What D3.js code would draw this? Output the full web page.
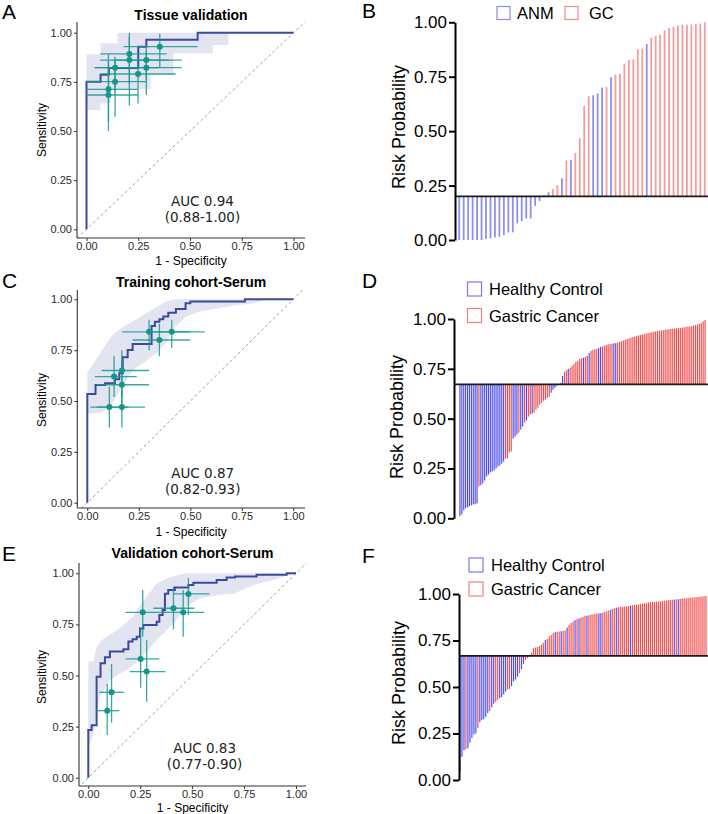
<!DOCTYPE html>
<html><head><meta charset="utf-8">
<script src="https://cdn.jsdelivr.net/npm/d3@7"></script>
<style>body{margin:0;background:#fff}svg{display:block}</style>
</head><body>
<svg id="c" width="708" height="814"></svg>
<script>
// ---------------- DATA ----------------
const axisTicks = [0, 0.25, 0.5, 0.75, 1];

// Panel A - Tissue validation
const rocA_fpr = [0, 0, 0.068, 0.108, 0.25, 0.289, 0.537, 1];
const rocA_tpr = [0, 0.75, 0.786, 0.821, 0.929, 0.964, 1, 1];
const ciA_x  = [0, 0.068, 0.116, 0.15, 0.31, 0.42, 0.61, 0.686];
const ciA_lo = [0.607, 0.64, 0.712, 0.712, 0.785, 0.895, 0.937, 1];
const ciA_hi = [0.89, 0.946, 0.946, 1, 1, 1, 1, 1];
const ptA_x   = [0.354, 0.207, 0.207, 0.289, 0.289, 0.138, 0.249, 0.138, 0.106, 0.106];
const ptA_y   = [0.929, 0.892, 0.861, 0.861, 0.822, 0.822, 0.79, 0.751, 0.712, 0.683];
const ptA_xlo = [0.179, 0.066, 0.066, 0.13, 0.04, 0.04, 0.068, 0.0, 0.0, 0.0];
const ptA_xhi = [0.537, 0.387, 0.40, 0.46, 0.46, 0.35, 0.43, 0.29, 0.248, 0.248];
const ptA_ylo = [0.82, 0.74, 0.63, 0.76, 0.683, 0.70, 0.64, 0.573, 0.55, 0.50];
const ptA_yhi = [0.995, 1.0, 0.98, 0.93, 0.903, 0.878, 0.844, 0.86, 0.89, 0.85];

// Panel C - Training cohort-Serum
const rocC_fpr = [0, 0, 0.04, 0.086, 0.134, 0.155, 0.172, 0.196, 0.22, 0.312, 0.328, 0.35, 0.369, 0.393, 0.43, 0.477, 0.5, 0.765, 1];
const rocC_tpr = [0, 0.534, 0.579, 0.587, 0.607, 0.636, 0.715, 0.751, 0.78, 0.869, 0.89, 0.902, 0.915, 0.934, 0.952, 0.98, 0.989, 1, 1];
const ciC_x  = [0, 0.06, 0.11, 0.14, 0.175, 0.22, 0.29, 0.34, 0.385, 0.42, 0.48, 0.547, 0.63, 0.71, 0.81, 0.87];
const ciC_lo = [0.44, 0.44, 0.47, 0.52, 0.58, 0.65, 0.70, 0.74, 0.79, 0.857, 0.915, 0.94, 0.955, 0.97, 0.98, 1.0];
const ciC_hi = [0.64, 0.73, 0.81, 0.84, 0.866, 0.89, 0.935, 0.965, 0.99, 1, 1, 1, 1, 1, 1, 1];
const ptC_x   = [0.30, 0.35, 0.41, 0.168, 0.13, 0.168, 0.107, 0.168];
const ptC_y   = [0.84, 0.80, 0.84, 0.65, 0.62, 0.58, 0.47, 0.47];
const ptC_xlo = [0.17, 0.22, 0.29, 0.07, 0.037, 0.045, 0.015, 0.045];
const ptC_xhi = [0.50, 0.50, 0.57, 0.30, 0.24, 0.30, 0.20, 0.28];
const ptC_ylo = [0.75, 0.72, 0.76, 0.53, 0.52, 0.45, 0.37, 0.37];
const ptC_yhi = [0.90, 0.88, 0.90, 0.75, 0.72, 0.70, 0.57, 0.55];

// Panel E - Validation cohort-Serum
const rocE_fpr = [0, 0, 0.016, 0.04, 0.059, 0.08, 0.104, 0.169, 0.193, 0.213, 0.233, 0.249, 0.265, 0.329, 0.342, 0.358, 0.369, 0.385, 0.417, 0.482, 0.506, 0.618, 0.666, 0.706, 0.81, 0.955, 1];
const rocE_tpr = [0, 0.233, 0.256, 0.494, 0.56, 0.589, 0.617, 0.628, 0.666, 0.677, 0.69, 0.73, 0.747, 0.763, 0.796, 0.82, 0.90, 0.918, 0.93, 0.943, 0.954, 0.967, 0.979, 0.984, 0.993, 1, 1];
const ciE_x  = [0, 0.024, 0.032, 0.04, 0.056, 0.072, 0.104, 0.136, 0.185, 0.217, 0.25, 0.29, 0.33, 0.377, 0.41, 0.47, 0.54, 0.62, 0.70, 0.795, 0.89, 0.955, 1.0];
const ciE_lo = [0.152, 0.21, 0.25, 0.32, 0.396, 0.42, 0.478, 0.50, 0.527, 0.55, 0.584, 0.625, 0.675, 0.72, 0.755, 0.835, 0.878, 0.894, 0.90, 0.943, 0.967, 0.987, 1.0];
const ciE_hi = [0.568, 0.568, 0.60, 0.64, 0.66, 0.68, 0.70, 0.72, 0.76, 0.79, 0.845, 0.90, 0.95, 0.975, 0.985, 1, 1, 1, 1, 1, 1, 1, 1];
const ptE_x   = [0.482, 0.41, 0.457, 0.262, 0.252, 0.281, 0.112, 0.091];
const ptE_y   = [0.899, 0.829, 0.809, 0.809, 0.581, 0.519, 0.418, 0.328];
const ptE_xlo = [0.41, 0.313, 0.361, 0.18, 0.18, 0.2, 0.053, 0.04];
const ptE_xhi = [0.583, 0.51, 0.559, 0.374, 0.342, 0.371, 0.172, 0.149];
const ptE_ylo = [0.796, 0.726, 0.69, 0.69, 0.44, 0.372, 0.27, 0.209];
const ptE_yhi = [0.976, 0.935, 0.918, 0.918, 0.723, 0.674, 0.556, 0.458];

// Panel B - tissue risk probability (group: 0 = ANM, 1 = GC)
const riskB = [0,0,0,0,0,0,0.005,0.008,0.012,0.015,0.023,0.035,0.035,0.076,0.087,0.099,0.099,0.157,0.179,
  0.205,0.219,0.234,0.252,0.283,0.365,0.368,0.40,0.468,0.616,0.66,0.665,0.673,0.70,0.703,0.748,0.76,0.763,0.81,0.827,
  0.83,0.876,0.879,0.90,0.93,0.937,0.943,0.963,0.974,0.979,0.986,0.989,0.989,0.99,0.992,0.994,1.0];
const groupB = [0,0,0,0,0,0,0,0,0,0,0,0,0,0,0,0,0,0,0,
  0,0,1,1,0,1,0,1,1,1,1,0,0,0,1,0,1,1,1,1,
  1,1,1,0,1,1,1,1,1,1,1,1,1,1,1,1,1];

// Panel D - training serum risk probability (0 = Healthy Control, 1 = Gastric Cancer)
const riskD = [0.01,0.02,0.04,0.05,0.055,0.06,0.065,0.07,0.07,0.075,0.16,0.165,0.175,0.19,0.21,0.22,0.23,0.235,0.24,0.25,
  0.26,0.265,0.275,0.285,0.30,0.30,0.33,0.335,0.40,0.41,0.42,0.43,0.445,0.46,0.48,0.49,0.51,0.52,0.525,0.53,
  0.545,0.555,0.57,0.58,0.59,0.595,0.605,0.61,0.63,0.645,0.655,0.665,
  0.675,0.68,0.714,0.735,0.742,0.75,0.755,0.765,0.775,0.785,0.79,0.80,0.803,0.806,0.81,0.815,0.83,0.84,0.845,0.848,
  0.85,0.855,0.86,0.862,0.866,0.87,0.873,0.875,0.876,0.878,0.879,0.882,0.885,0.888,0.892,0.896,0.90,0.903,0.906,0.909,
  0.912,0.915,0.918,0.92,0.923,0.926,0.928,0.93,0.932,0.934,0.936,0.938,0.94,0.941,0.943,0.944,0.946,0.947,0.949,0.95,
  0.951,0.952,0.953,0.954,0.955,0.957,0.958,0.96,0.962,0.963,0.965,0.967,0.969,0.972,0.976,0.98,0.988,0.995];
const groupD = [0,0,0,0,0,0,0,0,0,0,1,0,0,0,0,0,0,0,0,0,
  0,0,0,0,1,1,1,1,0,0,0,1,0,0,1,0,1,1,0,1,
  1,1,1,1,1,1,1,1,0,0,0,0,
  1,1,0,1,1,0,1,1,1,1,1,1,1,0,1,1,0,1,1,1,
  1,0,0,1,1,1,1,1,1,0,0,1,1,1,1,1,1,1,1,1,
  1,1,1,1,1,1,1,1,1,1,1,1,1,1,1,1,1,1,1,1,
  1,1,1,1,1,1,1,1,1,1,1,1,1,1,1,1,1,1];

// Panel F - validation serum risk probability (0 = Healthy Control, 1 = Gastric Cancer)
const riskF = [0.045,0.125,0.16,0.165,0.17,0.2,0.225,0.245,0.25,0.28,0.31,0.322,0.327,0.34,0.36,0.37,0.39,0.41,0.42,0.43,
  0.44,0.445,0.46,0.475,0.487,0.49,0.505,0.53,0.54,0.555,0.575,0.595,0.625,0.645,0.655,0.662,
  0.685,0.708,0.712,0.715,0.72,0.728,0.738,0.752,0.758,0.772,0.78,0.79,0.797,0.797,0.798,0.80,0.802,0.805,0.82,0.835,
  0.845,0.852,0.86,0.865,0.869,0.873,0.877,0.881,0.884,0.886,0.889,0.891,0.893,0.895,0.896,0.897,0.90,0.904,0.908,0.912,
  0.916,0.92,0.924,0.927,0.929,0.931,0.932,0.933,0.934,0.936,0.937,0.939,0.941,0.942,0.944,0.946,0.948,0.95,0.952,0.954,
  0.956,0.957,0.958,0.959,0.96,0.961,0.963,0.964,0.965,0.967,0.968,0.969,0.97,0.971,0.972,0.974,0.976,0.977,0.978,0.979,
  0.98,0.981,0.982,0.983,0.984,0.985,0.987,0.988,0.989];
const groupF = [0,0,0,1,0,0,0,0,0,1,0,0,0,0,0,1,0,0,1,1,
  0,0,0,0,1,1,0,0,0,0,1,0,0,1,1,0,
  1,1,1,1,1,1,1,0,1,1,1,1,0,1,1,0,1,1,0,1,
  1,1,0,1,0,1,1,1,0,1,1,1,1,1,0,0,1,1,1,1,
  0,1,1,0,1,1,1,1,1,1,0,1,1,1,1,1,1,1,1,1,
  1,1,1,1,1,1,1,1,1,1,1,1,0,1,0,1,1,1,1,1,
  1,1,1,1,1,1,1,1,1];

// ---------------- DRAWING ----------------
const FONT = "'Liberation Sans', Arial, Helvetica, sans-serif";
const AUCFONT = "'DejaVu Sans', Verdana, sans-serif";
const svg = d3.select("#c");
const defs = svg.append("defs");
const fmt = d3.format(".2f");

function letter(t, x, y) {
  svg.append("text").attr("x", x).attr("y", y).text(t)
    .attr("font-family", FONT).attr("font-size", 21).attr("fill", "#000");
}

function rocPanel(o, d) {
  const x = d3.scaleLinear().domain([0, 1]).range([o.x0, o.x1]);
  const y = d3.scaleLinear().domain([0, 1]).range([o.y0, o.y1]);
  const g = svg.append("g");
  const cid = "clip-" + o.id;
  defs.append("clipPath").attr("id", cid).append("rect")
    .attr("x", o.axL).attr("y", o.axT).attr("width", o.axR - o.axL).attr("height", o.axB - o.axT);
  const pg = g.append("g").attr("clip-path", `url(#${cid})`);
  pg.append("path").datum(d3.range(d.ciX.length))
    .attr("d", d3.area().curve(o.stepBand ? d3.curveStepAfter : d3.curveLinear)
      .x(i => x(d.ciX[i])).y0(i => y(d.ciLo[i])).y1(i => y(d.ciHi[i])))
    .attr("fill", "#e3e4f1");
  pg.append("line").attr("x1", x(-0.2)).attr("y1", y(-0.2)).attr("x2", x(1.2)).attr("y2", y(1.2))
    .attr("stroke", "#a0a0a0").attr("stroke-width", 1).attr("stroke-dasharray", "3,2.5");
  pg.append("path").datum(d3.range(d.fpr.length))
    .attr("d", d3.line().curve(d3.curveStepAfter).x(i => x(d.fpr[i])).y(i => y(d.tpr[i])))
    .attr("fill", "none").attr("stroke", "#3b4a9c").attr("stroke-width", 2);
  const eb = g.append("g").attr("stroke", "#17998d").attr("stroke-width", 1.3).attr("stroke-opacity", 0.85);
  d.px.forEach((px, i) => {
    eb.append("line").attr("x1", x(d.pxlo[i])).attr("x2", x(d.pxhi[i])).attr("y1", y(d.py[i])).attr("y2", y(d.py[i]));
    eb.append("line").attr("x1", x(px)).attr("x2", x(px)).attr("y1", y(d.pylo[i])).attr("y2", y(d.pyhi[i]));
  });
  g.append("g").selectAll("circle").data(d.px).join("circle")
    .attr("cx", v => x(v)).attr("cy", (v, i) => y(d.py[i])).attr("r", 3).attr("fill", "#13978b");

  // axes
  const ya = g.append("g").attr("transform", `translate(${o.axL},0)`)
    .call(d3.axisLeft(y).tickValues(axisTicks).tickFormat(fmt).tickSize(3).tickPadding(2));
  const xa = g.append("g").attr("transform", `translate(0,${o.axB})`)
    .call(d3.axisBottom(x).tickValues(axisTicks).tickFormat(fmt).tickSize(3).tickPadding(1));
  [ya, xa].forEach(a => {
    a.select(".domain").remove();
    a.selectAll("text").attr("font-family", FONT).attr("font-size", 11).attr("fill", "#2a2a2a");
    a.selectAll("line").attr("stroke", "#333");
  });
  g.append("line").attr("x1", o.axL).attr("x2", o.axL).attr("y1", o.axT).attr("y2", o.axB)
    .attr("stroke", "#333").attr("stroke-width", 1.1);
  g.append("line").attr("x1", o.axL).attr("x2", o.axR).attr("y1", o.axB).attr("y2", o.axB)
    .attr("stroke", "#333").attr("stroke-width", 1.1);

  g.append("text").attr("x", (o.axL + o.axR) / 2).attr("y", o.titleY).attr("text-anchor", "middle")
    .attr("font-family", FONT).attr("font-size", 14).attr("font-weight", "bold").text(o.title);
  g.append("text").attr("transform", `translate(${o.ylabX},${o.ylabY}) rotate(-90)`).attr("text-anchor", "middle")
    .attr("dominant-baseline", "central").attr("font-family", FONT).attr("font-size", 12).text("Sensitivity");
  g.append("text").attr("x", (o.axL + o.axR) / 2).attr("y", o.xlabY).attr("text-anchor", "middle")
    .attr("font-family", FONT).attr("font-size", 12).text("1 - Specificity");
  g.append("text").attr("x", x(0.56)).attr("y", y(0.145)).attr("text-anchor", "middle")
    .attr("dominant-baseline", "central").attr("font-family", AUCFONT).attr("font-size", 13.5).attr("fill", "#222").text(o.auc1);
  g.append("text").attr("x", x(0.56)).attr("y", y(0.065)).attr("text-anchor", "middle")
    .attr("dominant-baseline", "central").attr("font-family", AUCFONT).attr("font-size", 13.5).attr("fill", "#222").text(o.auc2);
}

function barPanel(o, vals, grp) {
  const y = d3.scaleLinear().domain([0, 1]).range([o.y0, o.y1]);
  const x = d3.scaleBand().domain(d3.range(vals.length)).range([o.bx0, o.bx1]);
  const g = svg.append("g");
  g.selectAll("rect").data(vals).join("rect")
    .attr("x", (v, i) => x(i) + x.bandwidth() / 2 - o.bw / 2)
    .attr("width", o.bw)
    .attr("y", v => Math.min(y(v), y(o.thr)))
    .attr("height", v => Math.abs(y(v) - y(o.thr)))
    .attr("fill", (v, i) => grp[i] ? o.red : o.blue);
  g.append("line").attr("x1", o.axX).attr("x2", 708).attr("y1", y(o.thr)).attr("y2", y(o.thr))
    .attr("stroke", "#1a1a1a").attr("stroke-width", 1.8);
  const ya = g.append("g").attr("transform", `translate(${o.axX},0)`)
    .call(d3.axisLeft(y).tickValues(axisTicks).tickFormat(fmt).tickSize(6).tickSizeOuter(0).tickPadding(2));
  ya.select(".domain").attr("stroke", "#000").attr("stroke-width", 2);
  ya.selectAll("line").attr("stroke", "#000").attr("stroke-width", 2);
  ya.selectAll("text").attr("font-family", FONT).attr("font-size", 17).attr("fill", "#000");
  g.append("text").attr("transform", `translate(${o.ylabX},${o.ylabY}) rotate(-90)`).attr("text-anchor", "middle")
    .attr("dominant-baseline", "central").attr("font-family", FONT).attr("font-size", 18).text("Risk Probability");
  o.legend.forEach(L => {
    g.append("rect").attr("x", L.x).attr("y", L.y).attr("width", L.s).attr("height", L.s)
      .attr("fill", "none").attr("stroke", L.c).attr("stroke-width", 1.2);
    g.append("text").attr("x", L.tx).attr("y", L.y + L.s / 2).attr("dominant-baseline", "central")
      .attr("font-family", FONT).attr("font-size", 16.5).text(L.t);
  });
}

// ROC panels
rocPanel({id: "A", x0: 86.5, x1: 293.5, y0: 229.3, y1: 32.7, axL: 77, axR: 305, axT: 22, axB: 238,
  stepBand: true, title: "Tissue validation", titleY: 20, ylabX: 41.5, ylabY: 130, xlabY: 265,
  auc1: "AUC 0.94", auc2: "(0.88-1.00)"},
  {fpr: rocA_fpr, tpr: rocA_tpr, ciX: ciA_x, ciLo: ciA_lo, ciHi: ciA_hi,
   px: ptA_x, py: ptA_y, pxlo: ptA_xlo, pxhi: ptA_xhi, pylo: ptA_ylo, pyhi: ptA_yhi});
rocPanel({id: "C", x0: 87.3, x1: 293.3, y0: 502.7, y1: 299.3, axL: 77.3, axR: 305, axT: 290, axB: 508,
  stepBand: false, title: "Training cohort-Serum", titleY: 287, ylabX: 41.5, ylabY: 400, xlabY: 536,
  auc1: "AUC 0.87", auc2: "(0.82-0.93)"},
  {fpr: rocC_fpr, tpr: rocC_tpr, ciX: ciC_x, ciLo: ciC_lo, ciHi: ciC_hi,
   px: ptC_x, py: ptC_y, pxlo: ptC_xlo, pxhi: ptC_xhi, pylo: ptC_ylo, pyhi: ptC_yhi});
rocPanel({id: "E", x0: 88.3, x1: 296, y0: 777.7, y1: 573.3, axL: 79, axR: 306, axT: 563, axB: 786,
  stepBand: false, title: "Validation cohort-Serum", titleY: 558, ylabX: 42, ylabY: 677, xlabY: 812,
  auc1: "AUC 0.83", auc2: "(0.77-0.90)"},
  {fpr: rocE_fpr, tpr: rocE_tpr, ciX: ciE_x, ciLo: ciE_lo, ciHi: ciE_hi,
   px: ptE_x, py: ptE_y, pxlo: ptE_xlo, pxhi: ptE_xhi, pylo: ptE_ylo, pyhi: ptE_yhi});

// Bar panels
barPanel({y0: 240, y1: 22.3, axX: 455, bx0: 457, bx1: 707, bw: 1.8, thr: 0.2,
  blue: "#8f8ff2", red: "#f59c9c", ylabX: 399, ylabY: 127,
  legend: [{x: 497, y: 6.5, s: 13, c: "#8a8af0", t: "ANM", tx: 517},
           {x: 565, y: 6.5, s: 13, c: "#f08c8c", t: "GC", tx: 589}]}, riskB, groupB);
barPanel({y0: 518.3, y1: 319, axX: 454, bx0: 459, bx1: 706, bw: 1.15, thr: 0.672,
  blue: "#4a4af2", red: "#f24c4c", ylabX: 397, ylabY: 417,
  legend: [{x: 467.5, y: 282, s: 14, c: "#7a7af0", t: "Healthy Control", tx: 489},
           {x: 467.5, y: 308.5, s: 14, c: "#f08080", t: "Gastric Cancer", tx: 489}]}, riskD, groupD);
barPanel({y0: 780, y1: 594, axX: 459, bx0: 459, bx1: 707, bw: 1.15, thr: 0.667,
  blue: "#4a4af2", red: "#f24c4c", ylabX: 399, ylabY: 683,
  legend: [{x: 469, y: 558, s: 14, c: "#7a7af0", t: "Healthy Control", tx: 491},
           {x: 469, y: 582, s: 14, c: "#f08080", t: "Gastric Cancer", tx: 491}]}, riskF, groupF);

letter("A", 2, 19);
letter("B", 362, 18);
letter("C", 2, 288);
letter("D", 362, 288);
letter("E", 2, 561);
letter("F", 362, 563);
</script>
</body></html>
